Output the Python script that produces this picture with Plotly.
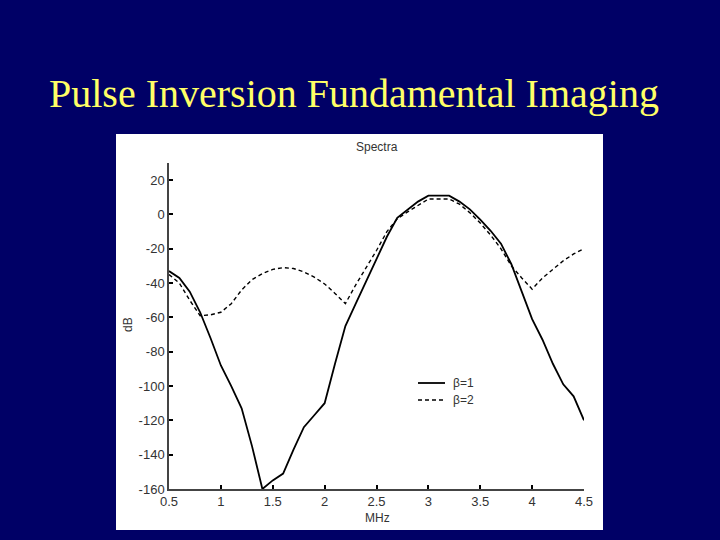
import plotly.graph_objects as go

freq_mhz = [0.5, 0.6, 0.7, 0.8, 0.9, 1.0, 1.1, 1.2, 1.3, 1.4, 1.5, 1.6, 1.7, 1.8, 1.9, 2.0,
            2.1, 2.2, 2.3, 2.4, 2.5, 2.6, 2.7, 2.8, 2.9, 3.0, 3.1, 3.2, 3.3, 3.4, 3.5, 3.6,
            3.7, 3.8, 3.9, 4.0, 4.1, 4.2, 4.3, 4.4, 4.5]

beta1_db = [-33, -37, -45, -57, -72, -88, -100, -113, -135, -160, -155, -151, -137, -124, -117, -110,
            -87, -65, -52, -39, -26, -13, -2, 3, 7.5, 11, 11, 11, 7.5, 3, -3, -9.5,
            -17, -29, -45, -61, -73, -87, -99, -106, -120]

beta2_db = [-35, -40, -50, -59, -58.5, -57, -52, -44, -38, -34.5, -32, -31, -31.5, -33.5, -36.5, -40.5,
            -46, -52, -41, -31, -21, -10, -2.5, 1.5, 5.5, 9, 9, 9, 6, 1, -5, -12,
            -20, -30, -37, -43.5, -37, -32, -27, -23, -20]

x_ticks = [0.5, 1, 1.5, 2, 2.5, 3, 3.5, 4, 4.5]
x_tick_labels = ["0.5", "1", "1.5", "2", "2.5", "3", "3.5", "4", "4.5"]
y_ticks = [-160, -140, -120, -100, -80, -60, -40, -20, 0, 20]
y_tick_labels = ["-160", "-140", "-120", "-100", "-80", "-60", "-40", "-20", "0", "20"]

W, H = 720, 540
L, R, T, B = 169, 136, 163, 51
PW, PH = W - L - R, H - T - B


def px(x):
    return (x - L) / PW


def py(y):
    return (H - B - y) / PH


NAVY = "#000066"
fig = go.Figure()
fig.add_trace(go.Scatter(x=freq_mhz, y=beta1_db, mode="lines", name="β=1",
                         line=dict(color="black", width=1.8), showlegend=False))
fig.add_trace(go.Scatter(x=freq_mhz, y=beta2_db, mode="lines", name="β=2",
                         line=dict(color="black", width=1.4, dash="4px,3px"), showlegend=False))

tickfont = dict(family="Liberation Sans, Arial", size=13, color="#333333")
fig.update_layout(
    width=W, height=H,
    margin=dict(l=L, r=R, t=T, b=B),
    paper_bgcolor=NAVY, plot_bgcolor="white",
    xaxis=dict(range=[0.5, 4.5], tickvals=x_ticks, ticktext=x_tick_labels,
               showgrid=False, zeroline=False, showline=True, linecolor="#444444", linewidth=1.5,
               ticks="inside", ticklen=4, tickwidth=2, tickcolor="black", tickfont=tickfont),
    yaxis=dict(range=[-160, 30], tickvals=y_ticks, ticktext=y_tick_labels,
               showgrid=False, zeroline=False, showline=True, linecolor="#444444", linewidth=1.5,
               ticks="inside", ticklen=4, tickwidth=2, tickcolor="black", tickfont=tickfont),
    shapes=[
        dict(type="rect", xref="paper", yref="paper", x0=px(116), x1=px(603), y0=py(530), y1=py(134),
             fillcolor="white", line=dict(width=0), layer="below"),
        dict(type="line", xref="paper", yref="paper", x0=px(418), x1=px(445), y0=py(383), y1=py(383),
             line=dict(color="black", width=1.8)),
        dict(type="line", xref="paper", yref="paper", x0=px(418), x1=px(445), y0=py(400), y1=py(400),
             line=dict(color="black", width=1.4, dash="4px,3px")),
    ],
)

title_text = "Pulse Inversion Fundamental Imaging"
fig.add_annotation(text=title_text, xref="paper", yref="paper", x=px(354), y=py(94),
                   showarrow=False, xanchor="center", yanchor="middle",
                   font=dict(family="Liberation Serif, Times New Roman", size=40, color="#FFFF66"))

small = dict(family="Liberation Sans, Arial", size=12, color="#333333")
fig.add_annotation(text="Spectra", xref="paper", yref="paper", x=px(377), y=py(147),
                   showarrow=False, xanchor="center", yanchor="middle", font=small)
fig.add_annotation(text="MHz", xref="paper", yref="paper", x=px(377), y=py(518),
                   showarrow=False, xanchor="center", yanchor="middle", font=small)
fig.add_annotation(text="dB", xref="paper", yref="paper", x=px(128), y=py(325), textangle=-90,
                   showarrow=False, xanchor="center", yanchor="middle", font=small)
fig.add_annotation(text="β=1", xref="paper", yref="paper", x=px(451), y=py(383),
                   showarrow=False, xanchor="left", yanchor="middle", font=small)
fig.add_annotation(text="β=2", xref="paper", yref="paper", x=px(451), y=py(400),
                   showarrow=False, xanchor="left", yanchor="middle", font=small)

fig.write_html("out.html", config={"displayModeBar": False},
               post_script="document.body.style.margin='0';document.body.style.overflow='hidden';")
